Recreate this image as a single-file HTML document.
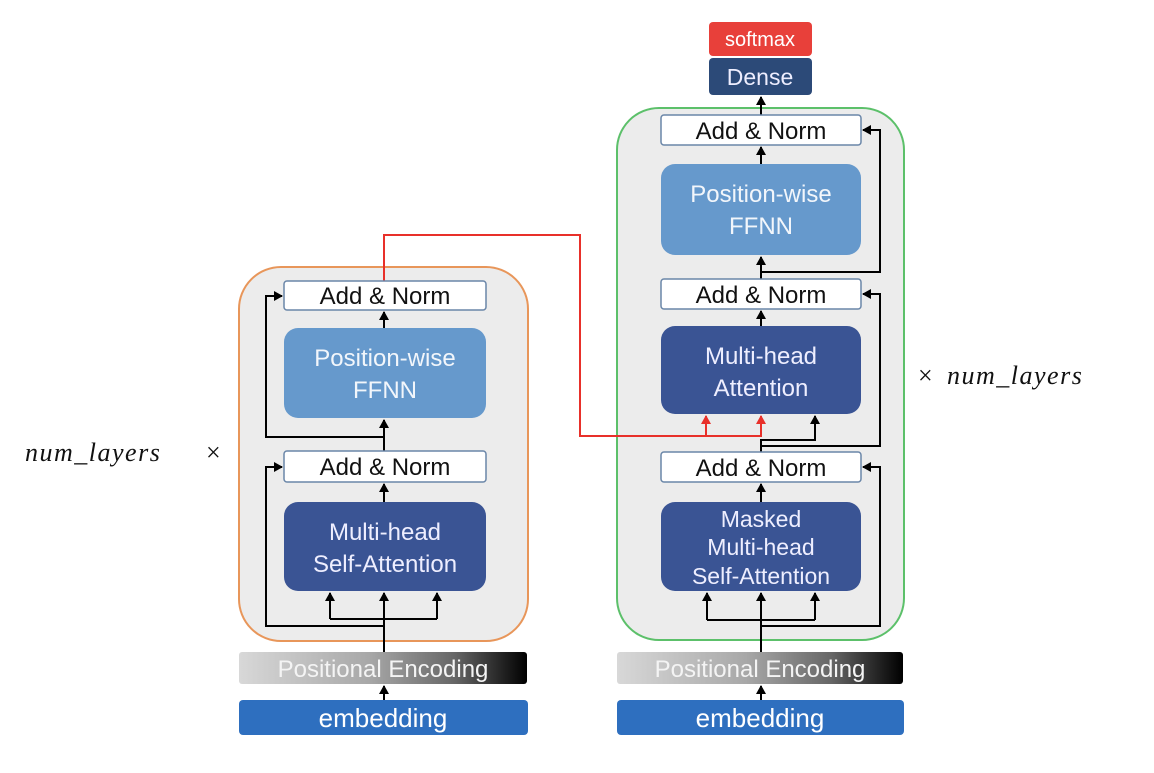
<!DOCTYPE html>
<html><head><meta charset="utf-8"><style>
body{margin:0;background:#fff}
svg text{font-family:"Liberation Sans",sans-serif}
svg text.m{font-family:"Liberation Serif",serif;font-style:italic;letter-spacing:1.5px}
</style></head><body>
<svg width="1154" height="768" viewBox="0 0 1154 768" xmlns="http://www.w3.org/2000/svg">
<defs>
<marker id="h" markerWidth="9" markerHeight="10" refX="8" refY="5" orient="auto" markerUnits="userSpaceOnUse"><path d="M0,0 L9,5 L0,10z" fill="#000"/></marker>
<marker id="r" markerWidth="9" markerHeight="10" refX="8" refY="5" orient="auto" markerUnits="userSpaceOnUse"><path d="M0,0 L9,5 L0,10z" fill="#e8302a"/></marker>
<linearGradient id="g" x1="0" x2="1"><stop offset="0" stop-color="#d8d8d8"/><stop offset="0.45" stop-color="#a8a8a8"/><stop offset="0.75" stop-color="#666"/><stop offset="1" stop-color="#000"/></linearGradient>
</defs>
<rect x="239" y="267" width="289" height="374" rx="42" fill="#ececec" stroke="#e8965a" stroke-width="2"/>
<rect x="617" y="108" width="287" height="532" rx="42" fill="#ececec" stroke="#5cc06a" stroke-width="2"/>
<g fill="none" stroke="#000" stroke-width="2">
<path d="M384 652 V593" marker-end="url(#h)"/>
<path d="M330 619 H437"/>
<path d="M330 619 V593" marker-end="url(#h)"/><path d="M437 619 V593" marker-end="url(#h)"/>
<path d="M384 626 H266 V467 H282" marker-end="url(#h)"/>
<path d="M384 502 V484" marker-end="url(#h)"/>
<path d="M384 451 V420" marker-end="url(#h)"/>
<path d="M384 437 H266 V296 H282" marker-end="url(#h)"/>
<path d="M384 328 V312" marker-end="url(#h)"/>
<path d="M384 700 V686" marker-end="url(#h)"/>
<path d="M761 652 V593" marker-end="url(#h)"/>
<path d="M707 620 H815"/>
<path d="M707 620 V593" marker-end="url(#h)"/><path d="M815 620 V593" marker-end="url(#h)"/>
<path d="M761 626 H880 V467 H863" marker-end="url(#h)"/>
<path d="M761 502 V484" marker-end="url(#h)"/>
<path d="M761 452 V440 H815 V416" marker-end="url(#h)"/>
<path d="M761 446 H880 V294 H863" marker-end="url(#h)"/>
<path d="M761 326 V311" marker-end="url(#h)"/>
<path d="M761 279 V257" marker-end="url(#h)"/>
<path d="M761 272 H880 V130 H863" marker-end="url(#h)"/>
<path d="M761 164 V147" marker-end="url(#h)"/>
<path d="M761 115 V97" marker-end="url(#h)"/>
<path d="M761 700 V686" marker-end="url(#h)"/>
</g>
<g fill="none" stroke="#e8302a" stroke-width="2">
<path d="M384 281 V235 H580 V436 H761 V416" marker-end="url(#r)"/>
<path d="M706 436 V416" marker-end="url(#r)"/>
</g>
<g font-size="24" text-anchor="middle">
<rect x="284" y="281" width="202" height="29" rx="3" fill="#fff" stroke="#6a86a8" stroke-width="1.5"/>
<text x="385" y="304" fill="#111">Add &amp; Norm</text>
<rect x="284" y="328" width="202" height="90" rx="14" fill="#6699cc"/>
<text x="385" y="366" fill="#f2f6fb">Position-wise</text><text x="385" y="398" fill="#f2f6fb">FFNN</text>
<rect x="284" y="451" width="202" height="31" rx="3" fill="#fff" stroke="#6a86a8" stroke-width="1.5"/>
<text x="385" y="475" fill="#111">Add &amp; Norm</text>
<rect x="284" y="502" width="202" height="89" rx="14" fill="#3a5494"/>
<text x="385" y="540" fill="#eef">Multi-head</text><text x="385" y="572" fill="#eef">Self-Attention</text>
<rect x="239" y="652" width="288" height="32" rx="3" fill="url(#g)"/>
<text x="383" y="677" fill="#f4f4f4">Positional Encoding</text>
<rect x="239" y="700" width="289" height="35" rx="4" fill="#2e6fbf"/>
<text x="383" y="727" fill="#fff" font-size="26">embedding</text>
<rect x="661" y="115" width="200" height="30" rx="3" fill="#fff" stroke="#6a86a8" stroke-width="1.5"/>
<text x="761" y="139" fill="#111">Add &amp; Norm</text>
<rect x="661" y="164" width="200" height="91" rx="14" fill="#6699cc"/>
<text x="761" y="202" fill="#f2f6fb">Position-wise</text><text x="761" y="234" fill="#f2f6fb">FFNN</text>
<rect x="661" y="279" width="200" height="30" rx="3" fill="#fff" stroke="#6a86a8" stroke-width="1.5"/>
<text x="761" y="303" fill="#111">Add &amp; Norm</text>
<rect x="661" y="326" width="200" height="88" rx="14" fill="#3a5494"/>
<text x="761" y="364" fill="#eef">Multi-head</text><text x="761" y="396" fill="#eef">Attention</text>
<rect x="661" y="452" width="200" height="30" rx="3" fill="#fff" stroke="#6a86a8" stroke-width="1.5"/>
<text x="761" y="476" fill="#111">Add &amp; Norm</text>
<rect x="661" y="502" width="200" height="89" rx="14" fill="#3a5494"/>
<text x="761" y="527" fill="#eef" font-size="23">Masked</text><text x="761" y="555" fill="#eef" font-size="23">Multi-head</text><text x="761" y="584" fill="#eef" font-size="23">Self-Attention</text>
<rect x="617" y="652" width="286" height="32" rx="3" fill="url(#g)"/>
<text x="760" y="677" fill="#f4f4f4">Positional Encoding</text>
<rect x="617" y="700" width="287" height="35" rx="4" fill="#2e6fbf"/>
<text x="760" y="727" fill="#fff" font-size="26">embedding</text>
<rect x="709" y="22" width="103" height="34" rx="4" fill="#e8403a"/>
<text x="760" y="46" fill="#fff" font-size="20">softmax</text>
<rect x="709" y="58" width="103" height="37" rx="4" fill="#2c4a78"/>
<text x="760" y="85" fill="#eef" font-size="23">Dense</text>
</g>
<g font-size="26" fill="#111">
<text class="m" x="25" y="461">num_layers</text>
<text x="206" y="461" style="font-family:'Liberation Serif',serif">×</text>
<text x="918" y="384" style="font-family:'Liberation Serif',serif">×</text>
<text class="m" x="947" y="384">num_layers</text>
</g>
</svg>
</body></html>
